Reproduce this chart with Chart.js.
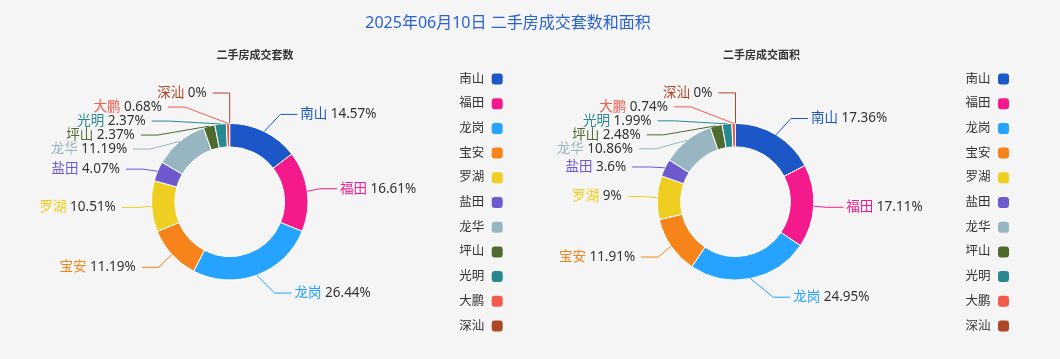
<!DOCTYPE html>
<html>
<head>
<meta charset="utf-8">
<script src="https://cdn.jsdelivr.net/npm/chart.js@4.4.1/dist/chart.umd.min.js"></script>
<style>
html, body { margin: 0; padding: 0; background: #f5f5f5; }
#wrap { position: relative; width: 1060px; height: 359px; overflow: hidden; }
#title { position: absolute; left: 0; top: 11px; width: 1016px; text-align: center; font: 16px "Noto Sans", "Noto Sans CJK SC", sans-serif; line-height: 22px; color: #2a62cf; }
canvas { position: absolute; top: 0; }
</style>
</head>
<body>
<div id="wrap">
	<canvas id="chart_count" width="530" height="359" style="left:0"></canvas>
	<canvas id="chart_area" width="530" height="359" style="left:530px"></canvas>
	<div id="title">2025年06月10日 二手房成交套数和面积</div>
</div>
<script>
const districts = ['南山', '福田', '龙岗', '宝安', '罗湖', '盐田', '龙华', '坪山', '光明', '大鹏', '深汕'];
// 占比 (%)
const countPct = [14.57, 16.61, 26.44, 11.19, 10.51, 4.07, 11.19, 2.37, 2.37, 0.68, 0];
const areaPct = [17.36, 17.11, 24.95, 11.91, 9, 3.6, 10.86, 2.48, 1.99, 0.74, 0];

const colors = ['#1b57c6', '#f41a8c', '#25a3fe', '#f6841a', '#eecf21', '#6e59cf', '#98b6c2', '#4f6a2e', '#27898f', '#f25b4b', '#ae4527'];
const FONT = '"Noto Sans", "Noto Sans CJK SC", sans-serif';

// 外侧标签 + 引导线 (避让重叠)
const pieLabels = {
	id: 'pieLabels',
	afterDatasetsDraw(chart, args, opts) {
		const ctx = chart.ctx;
		const arcs = chart.getDatasetMeta(0).data;
		const values = chart.data.datasets[0].data;
		const cx = arcs[0].x, cy = arcs[0].y, r = arcs[0].outerRadius;
		const rY = r + opts.len;
		const rA = opts.rx;
		const items = arcs.map((arc, i) => {
			const mid = (arc.startAngle + arc.endAngle) / 2;
			const cos = Math.cos(mid), sin = Math.sin(mid);
			return { i, cos, dir: cos < 0 ? -1 : 1, x0: cx + cos * r, y0: cy + sin * r, ny: cy + sin * rY };
		});
		[-1, 1].forEach(dir => {
			const list = items.filter(it => it.dir === dir).sort((a, b) => a.ny - b.ny);
			const push = [];
			list.forEach((it, k) => push.push(k ? Math.max(it.ny, push[k - 1] + opts.gap) : it.ny));
			const blocks = [];
			list.forEach((it, k) => {
				blocks.push({ sum: it.ny - k * opts.gap, n: 1 });
				while (blocks.length > 1) {
					const a = blocks[blocks.length - 2], b = blocks[blocks.length - 1];
					if (a.sum / a.n <= b.sum / b.n) break;
					blocks.pop();
					a.sum += b.sum;
					a.n += b.n;
				}
			});
			const pav = [];
			blocks.forEach(b => {
				for (let j = 0; j < b.n; j++) pav.push(b.sum / b.n + pav.length * opts.gap);
			});
			list.forEach((it, k) => { it.y = (push[k] + pav[k]) / 2; });

			[list.filter(it => it.y < cy), list.filter(it => it.y >= cy)].forEach(semi => {
				if (!semi.length) return;
				let far = semi[0];
				semi.forEach(it => { if (Math.abs(it.y - cy) > Math.abs(far.y - cy)) far = it; });
				const dy = Math.abs(far.y - cy), dx = Math.abs(far.cos) * rY;
				let rB = dx < rY ? Math.sqrt(dy * dy / (1 - dx * dx / (rY * rY))) : rY;
				rB = Math.max(rB, opts.ry);
				semi.forEach(it => {
					const t = Math.abs(it.y - cy) / rB;
					it.ex = cx + dir * Math.sqrt(Math.max(0, 1 - t * t)) * rA;
				});
			});
		});

		ctx.save();
		ctx.font = '13.5px ' + FONT;
		ctx.textBaseline = 'middle';
		items.forEach(it => {
			const col = colors[it.i];
			ctx.strokeStyle = col;
			ctx.lineWidth = 1;
			ctx.beginPath();
			ctx.moveTo(it.x0, it.y0);
			ctx.lineTo(it.ex, it.y);
			ctx.lineTo(it.ex + it.dir * opts.len2, it.y);
			ctx.stroke();

			const name = districts[it.i];
			const val = values[it.i] + '%';
			const tx = it.ex + it.dir * (opts.len2 + (it.dir > 0 ? 3 : 6));
			const nw = ctx.measureText(name).width + 3.5, vw = ctx.measureText(val).width;
			ctx.textAlign = 'left';
			const start = it.dir > 0 ? tx : tx - nw - vw;
			ctx.fillStyle = col;
			ctx.fillText(name, start, it.y);
			ctx.fillStyle = '#333';
			ctx.fillText(val, start + nw, it.y);
		});
		ctx.restore();
	},
	afterDraw(chart, args, opts) {
		const ctx = chart.ctx;
		ctx.save();
		ctx.font = 'bold 11px ' + FONT;
		ctx.fillStyle = '#333';
		ctx.textAlign = 'center';
		ctx.textBaseline = 'middle';
		ctx.fillText(opts.subtitle, opts.subX, 56);

		ctx.font = '12.5px ' + FONT;
		ctx.textAlign = 'right';
		districts.forEach((d, i) => {
			const y = 79 + i * 24.7;
			ctx.fillStyle = '#333';
			ctx.fillText(d, opts.legendX - 7.5, y);
			ctx.fillStyle = colors[i];
			ctx.beginPath();
			ctx.roundRect(opts.legendX, y - 5.5, 11, 11, 3);
			ctx.fill();
		});
		ctx.restore();
	},
};

function makeChart(el, values, subtitle, padding, subX, legendX) {
	return new Chart(el, {
		type: 'doughnut',
		data: {
			labels: districts,
			datasets: [
				{
					data: values,
					backgroundColor: colors,
					borderColor: '#ffffff',
					borderWidth: values.map(v => (v ? 1 : 0)),
				},
			],
		},
		plugins: [pieLabels],
		options: {
			responsive: false,
			animation: false,
			radius: 78.3,
			cutout: '70%',
			layout: { padding: padding },
			plugins: {
				legend: { display: false },
				tooltip: { enabled: false },
				pieLabels: { len: 19, len2: 17, gap: 14, rx: 91, ry: 105, subtitle: subtitle, subX: subX, legendX: legendX },
			},
		},
	});
}

const chartCount = makeChart(
	document.getElementById('chart_count'),
	countPct,
	'二手房成交套数',
	{ left: 144.7, right: 215.3, top: 116.7, bottom: 72.3 },
	255,
	491.7
);
const chartArea = makeChart(
	document.getElementById('chart_area'),
	areaPct,
	'二手房成交面积',
	{ left: 120.5, right: 239.5, top: 116.7, bottom: 72.3 },
	231.6,
	468
);
</script>
</body>
</html>
